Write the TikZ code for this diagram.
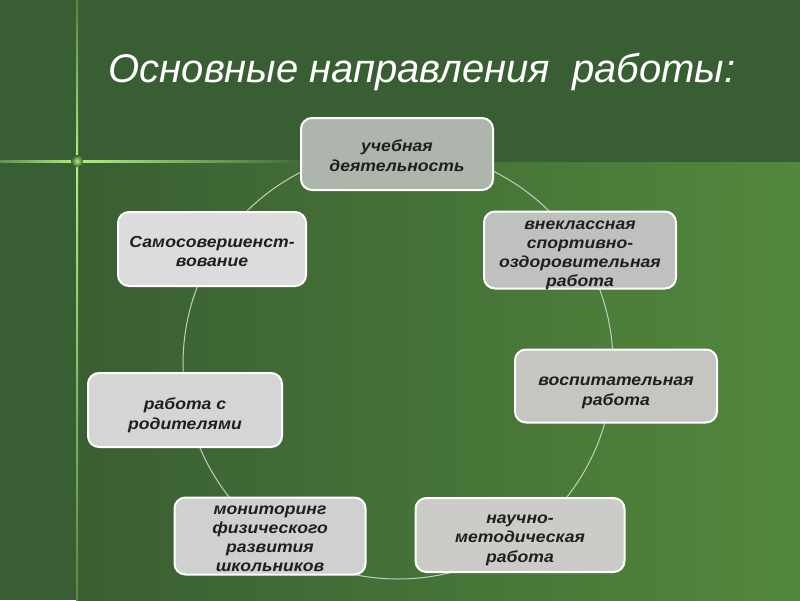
\documentclass[tikz,border=0pt]{standalone}
\usepackage{fontspec}
\setmainfont{Liberation Sans}
\newfontfamily\topicfont[FakeStretch=1.1]{Liberation Sans}
\usetikzlibrary{positioning}
\definecolor{BgDark}{RGB}{58,94,51}
\definecolor{BgLight}{RGB}{82,136,60}
\definecolor{GlowGreen}{RGB}{175,240,125}
\definecolor{RingGray}{RGB}{196,206,194}
\definecolor{BoxSage}{RGB}{173,181,172}
\definecolor{BoxPale}{RGB}{220,220,220}
\definecolor{BoxMid}{RGB}{190,193,190}
\definecolor{BoxLight}{RGB}{214,213,214}
\definecolor{BoxWarm}{RGB}{197,197,194}
\definecolor{BoxGray}{RGB}{208,208,208}
\definecolor{BoxStone}{RGB}{203,203,199}
\newcommand\topstrut[1]{\rule{0pt}{#1}}

\tikzset{
  topic/.style={draw=white, line width=2pt, rounded corners=11pt, align=center,
                font=\topicfont\fontsize{16}{19.5}\selectfont\bfseries\itshape, text=black!88},
  tight/.style={inner ysep=0pt, font=\topicfont\fontsize{16}{19}\selectfont\bfseries\itshape},
}

\begin{document}
\begin{tikzpicture}[x=1pt, y=-1pt]
  \useasboundingbox (0,0) rectangle (800,600);
  % background
  \fill[BgDark] (0,0) rectangle (800,600);
  \shade[left color=BgDark, right color=BgLight] (78,162) rectangle (800,600);
  % glowing cross
  \shade[top color=BgDark!75!GlowGreen, bottom color=GlowGreen] (76,0) rectangle (78,161);
  \shade[top color=GlowGreen, bottom color=BgDark!72!GlowGreen] (76,161) rectangle (78,600);
  \shade[left color=BgDark!65!GlowGreen, right color=GlowGreen] (0,160) rectangle (77,162);
  \shade[left color=GlowGreen, right color=BgDark] (77,160) rectangle (320,162);
  \shade[inner color=GlowGreen, outer color=BgDark] (77,161) circle (6pt);

  \node[text=white, font=\fontsize{40}{48}\selectfont\itshape, anchor=base]
       (title) at (422,82) {Основные направления\ \ работы:};

  % ring behind the boxes
  \draw[RingGray, line width=1pt] (398,364) circle (215pt);

  \node[topic, fill=BoxSage, minimum width=192, minimum height=72] (study) at (397,154)
       {\topstrut{15pt}учебная\\деятельность};
  \node[topic, fill=BoxPale, minimum width=188, minimum height=74] (selfdev) at (212,249)
       {\topstrut{16pt}Самосовершенст-\\вование};
  \node[topic, tight, fill=BoxMid, minimum width=192, minimum height=77] (sport) at (580,250)
       {\topstrut{16.5pt}внеклассная\\спортивно-\\оздоровительная\\\smash{работа}};
  \node[topic, fill=BoxLight, minimum width=194, minimum height=74] (parents) at (185,410)
       {\topstrut{22pt}работа с\\родителями};
  \node[topic, fill=BoxWarm, minimum width=202, minimum height=73] (upbring) at (616,386)
       {\topstrut{22pt}воспитательная\\работа};
  \node[topic, tight, fill=BoxGray, minimum width=191, minimum height=77] (monitor) at (270,536)
       {\topstrut{14.5pt}мониторинг\\физического\\развития\\школьников};
  \node[topic, fill=BoxStone, minimum width=209, minimum height=74] (method) at (520,535)
       {\topstrut{19pt}научно-\\методическая\\работа};
\end{tikzpicture}
\end{document}
